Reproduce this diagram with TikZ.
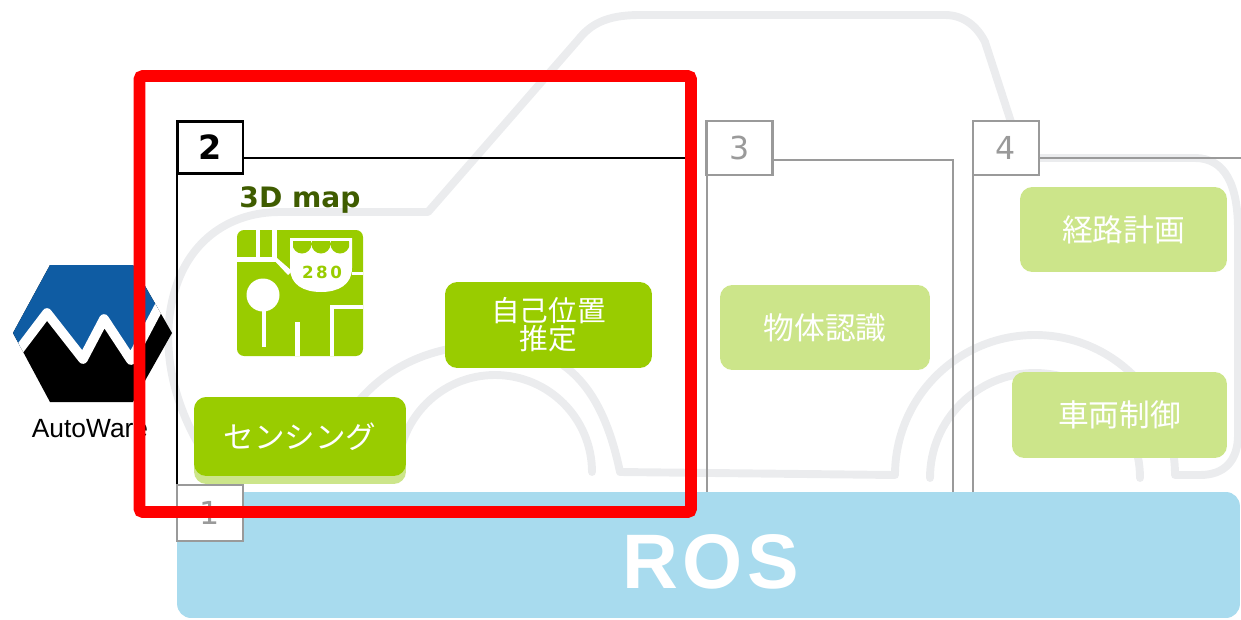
\documentclass[tikz,border=0pt]{standalone}
\usepackage{fontspec}
\setmainfont{DejaVu Sans}
\newfontfamily\jpfont{Noto Sans CJK JP}
\newfontfamily\arialfont{Liberation Sans}
\definecolor{procgreen}{HTML}{99CC00}
\definecolor{dimgreen}{HTML}{CCE58A}
\definecolor{rosblue}{HTML}{A8DBEE}
\definecolor{cargray}{HTML}{EBECEE}
\definecolor{framegray}{HTML}{9A9A9A}
\definecolor{mapolive}{HTML}{3F5C00}
\definecolor{awblue}{HTML}{0F5CA3}

\begin{document}
\begin{tikzpicture}[x=0.02cm, y=-0.02cm,
    carline/.style={draw=cargray, line width=4.5pt, line join=round, line cap=round},
    procbox/.style={fill=procgreen, rounded corners=7pt, text=white, inner sep=0pt, align=center,
        font=\jpfont\fontsize{17.5pt}{16pt}\selectfont},
    dimbox/.style={procbox, fill=dimgreen},
    numtab/.style={draw, line width=1.7pt, fill=white, minimum width=1.32cm, minimum height=1.04cm,
        inner sep=0pt, font=\bfseries\fontsize{19pt}{19pt}\selectfont},
    dimtab/.style={numtab, draw=framegray, text=framegray, line width=1.3pt,
        minimum height=1.08cm, font=\fontsize{18pt}{18pt}\selectfont}]
    \useasboundingbox (0,0) rectangle (1241,619);

    % car silhouette
    \draw[carline] (205,455) .. controls (170,400) and (160,340) .. (175,290)
        .. controls (190,240) and (230,212) .. (280,212) -- (428,212)
        -- (578,40) .. controls (590,25) and (605,15) .. (640,15) -- (945,15)
        .. controls (965,15) and (978,28) .. (985,42) -- (1012,125) -- (1020,158)
        -- (1195,158) .. controls (1225,158) and (1238,185) .. (1238,230) -- (1238,435)
        .. controls (1238,460) and (1225,475) .. (1200,475) -- (1175,475)
        arc[start angle=0, end angle=-180, radius=140] -- (620,472)
        .. controls (600,375) and (555,345) .. (490,345)
        .. controls (425,345) and (375,372) .. (345,420) -- (330,472) -- cycle;
    \draw[carline] (592,472) arc[start angle=0, end angle=-180, radius=97];
    \draw[carline] (1140,478) arc[start angle=0, end angle=-180, radius=105];

    % panel frames
    \draw[line width=1.7pt] (177,495) |- (692,158) -- (692,495);
    \draw[framegray, line width=1.3pt] (707,495) |- (953,160) -- (953,495);
    \draw[framegray, line width=1.3pt] (973,495) |- (1250,158);

    % tabs
    \node[numtab] (tab2) at (210,147.5) {2};
    \node[dimtab] (tab3) at (739.5,148) {3};
    \node[dimtab] (tab4) at (1006,148) {4};

    % blocks
    \node[procbox, minimum width=4.14cm, minimum height=1.72cm,
        font=\jpfont\fontsize{16.3pt}{16pt}\selectfont] (selfloc) at (548.5,325) {自己位置\\推定};
    \node[dimbox, minimum width=4.24cm, minimum height=1.74cm] (sensingdim) at (300,440.5) {};
    \node[procbox, minimum width=4.24cm, minimum height=1.58cm,
        font=\jpfont\fontsize{17.4pt}{17pt}\selectfont] (sensing) at (300,436.5) {センシング};
    \node[dimbox, minimum width=4.2cm, minimum height=1.7cm] (objrec) at (825,327.5) {物体認識};
    \node[dimbox, minimum width=4.14cm, minimum height=1.7cm] (pathplan) at (1123.5,229.5) {経路計画};
    \node[dimbox, minimum width=4.3cm, minimum height=1.72cm] (vehctl) at (1119.5,415) {車両制御};

    % 3D map icon
    \node[anchor=base, text=mapolive, font=\bfseries\fontsize{16pt}{16pt}\selectfont]
        (maptitle) at (300,207) {3D map};
    \fill[procgreen, rounded corners=4pt] (237,230) rectangle (363,356);
    \fill[white] (256,230) rectangle (260,257);
    \fill[white] (272,230) rectangle (277,262);
    \fill[white] (237,257) rectangle (277,262);
    \fill[white] (272,258) -- (277,258) -- (292,271) -- (288,275) -- cycle;
    \fill[white] (290,238) -- (352,238) -- (352,268) .. controls (352,285) and (338,292) .. (321,292)
        .. controls (304,292) and (290,285) .. (290,268) -- cycle;
    \begin{scope}
        \clip (293,241) rectangle (349,253);
        \fill[procgreen] (302,244) circle (9.5) (321,244) circle (9.5) (340,244) circle (9.5);
    \end{scope}
    \node[anchor=base, text=procgreen, inner sep=0pt,
        font=\bfseries\fontsize{9.5pt}{9.5pt}\selectfont\addfontfeature{LetterSpace=15}]
        (route) at (322,278) {280};
    \fill[white] (352,272) rectangle (363,275);
    \fill[white] (263,295) circle (16.5);
    \fill[white] (262,305) rectangle (266,347);
    \fill[white] (295,322) rectangle (300,356);
    \fill[white] (330,305) rectangle (363,309);
    \fill[white] (330,305) rectangle (334,356);

    % ROS layer
    \node[fill=rosblue, rounded corners=8pt, minimum width=21.26cm, minimum height=2.52cm,
        inner sep=0pt] (ros) at (708.5,555) {};
    \node[anchor=base, text=white, inner sep=0pt,
        font=\arialfont\bfseries\fontsize{44pt}{44pt}\selectfont\addfontfeature{LetterSpace=6}]
        (roslabel) at (711,588) {ROS};
    \node[dimtab, minimum height=1.12cm] (tab1) at (210,513) {1};

    % Autoware logo
    \begin{scope}
        \clip (50,265) -- (133,265) -- (172,333) -- (133,402) -- (50,402) -- (13,333) -- cycle;
        \fill[black] (0,250) rectangle (180,410);
        \fill[awblue] (0,250) -- (0,375) -- (47,313) -- (83,359) -- (104,319) -- (131,360)
            -- (180,267) -- (180,250) -- cycle;
        \draw[white, line width=5.5pt, line join=round]
            (0,375) -- (47,313) -- (83,359) -- (104,319) -- (131,360) -- (180,267);
    \end{scope}
    \node[anchor=base, font=\arialfont\fontsize{15pt}{15pt}\selectfont] (awname) at (90,437) {AutoWare};

    % highlight
    \draw[red, line width=6.8pt, rounded corners=2pt] (139.5,76) rectangle (691,512);
\end{tikzpicture}
\end{document}
